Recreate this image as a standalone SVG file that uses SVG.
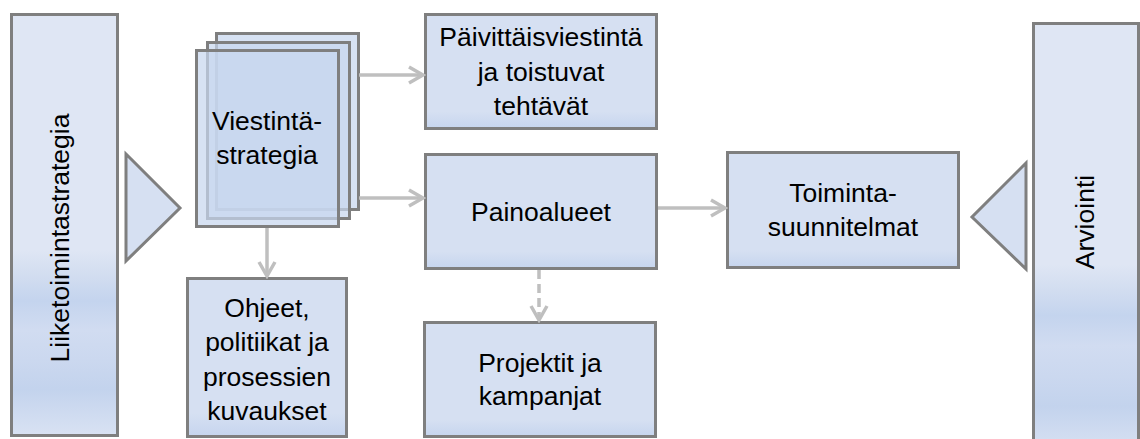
<svg xmlns="http://www.w3.org/2000/svg" width="1140" height="439" viewBox="0 0 1140 439">
<defs>
<linearGradient id="barGrad" x1="0" y1="0" x2="0" y2="1">
<stop offset="0" stop-color="#dfe6f4"/>
<stop offset="0.56" stop-color="#dfe6f4"/>
<stop offset="0.62" stop-color="#d2ddf0"/>
<stop offset="0.68" stop-color="#c4d4ee"/>
<stop offset="0.75" stop-color="#d1dcf1"/>
<stop offset="0.82" stop-color="#cbd8ef"/>
<stop offset="0.89" stop-color="#c3d3ed"/>
<stop offset="1" stop-color="#d9e2f3"/>
</linearGradient>
<linearGradient id="boxGrad" x1="0" y1="0" x2="0" y2="1">
<stop offset="0" stop-color="#d6e0f2"/>
<stop offset="0.85" stop-color="#d6e0f2"/>
<stop offset="1" stop-color="#c6d5ee"/>
</linearGradient>
<marker id="arrow" viewBox="0 0 20 20" refX="17" refY="10" markerWidth="20" markerHeight="20" markerUnits="userSpaceOnUse" orient="auto">
<path d="M3,2 L17,10 L3,18" fill="none" stroke="#bfbfbf" stroke-width="3.5" stroke-linejoin="miter"/>
</marker>
<style>
.box{fill:url(#boxGrad);stroke:#7f7f7f;stroke-width:3}
.bar{fill:url(#barGrad);stroke:#7f7f7f;stroke-width:3}
.tri{fill:#d6e0f2;stroke:#7f7f7f;stroke-width:3}
.sheet{fill:#c8d7ef;fill-opacity:0.72;stroke:#7f7f7f;stroke-width:3}
.conn{fill:none;stroke:#bfbfbf;stroke-width:3.5;marker-end:url(#arrow)}
.t{font-family:"Liberation Sans",Arial,sans-serif;font-size:26.5px;fill:#000;text-anchor:middle}
</style>
</defs>
<g id="liiketoimintastrategia">
<rect class="bar" x="11.5" y="14.5" width="106" height="421"/>
<text class="t" transform="translate(69,238) rotate(-90)">Liiketoimintastrategia</text>
</g>
<g id="triangle-left">
<polygon class="tri" points="126,154 180,208 126,261"/>
</g>
<g id="viestintastrategia">
<rect class="sheet" x="216.5" y="33.5" width="142" height="176"/>
<rect class="sheet" x="207.5" y="42.5" width="142" height="176"/>
<rect class="sheet" x="196.5" y="50.5" width="142" height="176"/>
<text class="t" x="267" y="130">Viestintä-</text>
<text class="t" x="267" y="164">strategia</text>
</g>
<g id="paivittaisviestinta">
<rect class="box" x="425.5" y="14.5" width="231" height="114"/>
<text class="t" x="541" y="46">Päivittäisviestintä</text>
<text class="t" x="541" y="81">ja toistuvat</text>
<text class="t" x="541" y="115">tehtävät</text>
</g>
<g id="painoalueet">
<rect class="box" x="425.5" y="154.5" width="231" height="114"/>
<text class="t" x="541" y="221">Painoalueet</text>
</g>
<g id="ohjeet">
<rect class="box" x="187.5" y="278.5" width="159" height="158"/>
<text class="t" x="267" y="317">Ohjeet,</text>
<text class="t" x="267" y="351">politiikat ja</text>
<text class="t" x="267" y="386">prosessien</text>
<text class="t" x="267" y="420">kuvaukset</text>
</g>
<g id="projektit">
<rect class="box" x="424.5" y="322.5" width="231" height="114"/>
<text class="t" x="540" y="372">Projektit ja</text>
<text class="t" x="540" y="405">kampanjat</text>
</g>
<g id="toimintasuunnitelmat">
<rect class="box" x="727.5" y="152.5" width="231" height="115"/>
<text class="t" x="843" y="202">Toiminta-</text>
<text class="t" x="843" y="236">suunnitelmat</text>
</g>
<g id="triangle-right">
<polygon class="tri" points="1026,163 972,217 1026,269"/>
</g>
<g id="arviointi">
<rect class="bar" x="1033.5" y="23.5" width="105" height="430"/>
<text class="t" transform="translate(1094,222) rotate(-90)">Arviointi</text>
</g>
<g id="connectors">
<line class="conn" x1="359" y1="75" x2="423" y2="75"/>
<line class="conn" x1="359" y1="198" x2="423" y2="198"/>
<line class="conn" x1="658" y1="208" x2="725" y2="208"/>
<line class="conn" x1="267" y1="228" x2="267" y2="276"/>
<line class="conn" x1="539" y1="270" x2="539" y2="320" stroke-dasharray="9,5"/>
</g>
</svg>
